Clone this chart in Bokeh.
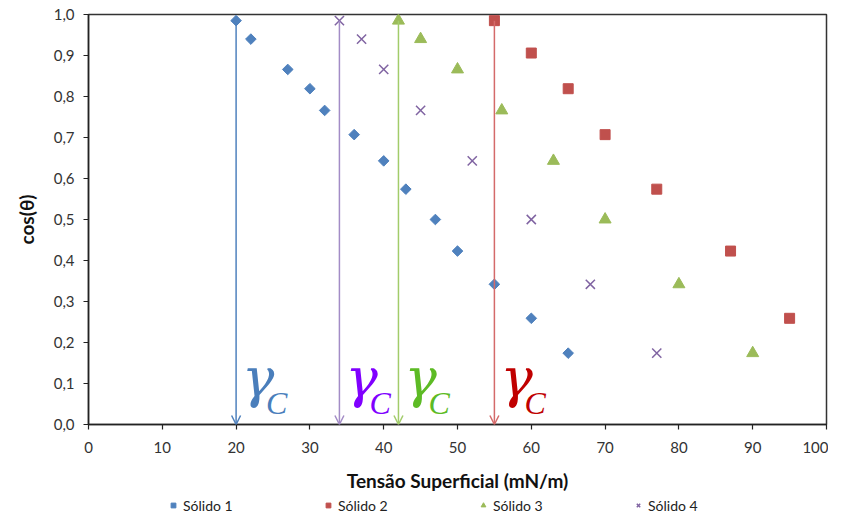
import numpy as np
from bokeh.plotting import figure
from bokeh.layouts import column
from bokeh.models import (Range1d, FixedTicker, Legend, LegendItem, Arrow, OpenHead,
                          ColumnDataSource)
from bokeh.core.properties import value
from bokeh.embed import file_html
from bokeh.resources import INLINE

# ---- data ----
s1_x = [20, 22, 27, 30, 32, 36, 40, 43, 47, 50, 55, 60, 65]
s1_y = [0.985, 0.940, 0.866, 0.819, 0.766, 0.707, 0.643, 0.574, 0.500, 0.423, 0.342, 0.259, 0.174]
s2_x = [55, 60, 65, 70, 77, 87, 95]
s2_y = [0.985, 0.906, 0.819, 0.707, 0.574, 0.423, 0.259]
s3_x = [42, 45, 50, 56, 63, 70, 80, 90]
s3_y = [0.985, 0.940, 0.866, 0.766, 0.643, 0.500, 0.342, 0.174]
s4_x = [34, 37, 40, 45, 52, 60, 68, 77]
s4_y = [0.985, 0.940, 0.866, 0.766, 0.643, 0.500, 0.342, 0.174]
series_names = ["Sólido 1", "Sólido 2", "Sólido 3", "Sólido 4"]

gamma_c = [20, 34, 42, 55]
arrow_top = [0.985, 0.985, 0.985, 0.985]
gamma_base = [0, 0, 0, 0]

x_ticks = [0, 10, 20, 30, 40, 50, 60, 70, 80, 90, 100]
y_ticks = [0.0, 0.1, 0.2, 0.3, 0.4, 0.5, 0.6, 0.7, 0.8, 0.9, 1.0]
y_tick_labels = ["0,0", "0,1", "0,2", "0,3", "0,4", "0,5", "0,6", "0,7", "0,8", "0,9", "1,0"]

# ---- styles ----
c_blue, c_red, c_green, c_purple = "#4F81BD", "#C0504D", "#9BBB59", "#8064A2"
arrow_colors = ["#4F81BD", "#A38CC6", "#A2CC6A", "#D46A6A"]
gamma_colors = ["#4A7EBB", "#8000FF", "#5DBB25", "#C00000"]
FONT = "Lato"
styles = [dict(marker="square", angle=np.pi / 4, size=7.5, fill_color=c_blue, line_color=c_blue),
          dict(marker="square", size=10, fill_color=c_red, line_color=c_red),
          dict(marker="triangle", size=12, fill_color=c_green, line_color=c_green),
          dict(marker="x", size=13, line_width=1.5, line_color=c_purple)]
series = [(s1_x, s1_y), (s2_x, s2_y), (s3_x, s3_y), (s4_x, s4_y)]

p = figure(width=828, height=494, output_backend="svg", toolbar_location=None,
           x_range=Range1d(0, 100), y_range=Range1d(0, 1),
           min_border_left=88, min_border_right=2, min_border_top=14, min_border_bottom=70)
p.grid.visible = False
p.outline_line_color = "#333333"
p.outline_line_width = 1.5
p.background_fill_color = "white"
p.border_fill_color = "white"

for ax in (p.xaxis, p.yaxis):
    ax.axis_line_color = "#222222"
    ax.axis_line_width = 1.5
    ax.major_tick_line_color = "#222222"
    ax.major_tick_line_width = 1.2
    ax.major_tick_in = 0
    ax.major_tick_out = 5
    ax.minor_tick_line_color = None
    ax.major_label_text_font = FONT
    ax.major_label_text_font_size = "15px"
    ax.major_label_text_color = "#333333"
    ax.axis_label_text_font = FONT
    ax.axis_label_text_font_style = "bold"
    ax.axis_label_text_font_size = "19px"
    ax.axis_label_text_color = "#111111"

p.xaxis.ticker = FixedTicker(ticks=x_ticks)
p.yaxis.ticker = FixedTicker(ticks=y_ticks)
p.yaxis.major_label_overrides = {t: l for t, l in zip(y_ticks, y_tick_labels)}
p.xaxis.axis_label = "Tensão Superficial (mN/m)"
p.yaxis.axis_label = "cos(θ)"
p.xaxis.major_label_standoff = 12
p.xaxis.axis_label_standoff = 13
p.yaxis.major_label_standoff = 9
p.yaxis.axis_label_standoff = 13

# arrows
for gx, top, col in zip(gamma_c, arrow_top, arrow_colors):
    p.add_layout(Arrow(x_start=gx, y_start=top, x_end=gx, y_end=0,
                       line_color=col, line_width=1.5,
                       end=OpenHead(size=9, line_color=col, line_width=1.5)))

# markers
for (sx, sy), st in zip(series, styles):
    p.scatter(sx, sy, **st)

# gamma_C labels
gsrc = ColumnDataSource(dict(x=gamma_c, y=gamma_base, c=gamma_colors,
                             g=["γ"] * len(gamma_c), s=["C"] * len(gamma_c)))
p.text(x="x", y="y", text="g", source=gsrc, text_color="c",
       text_font=value("DejaVu Serif"), text_font_style="italic",
       text_font_size="54px", text_baseline="alphabetic", text_align="left",
       x_offset=6, y_offset=-46)
p.text(x="x", y="y", text="s", source=gsrc, text_color="c",
       text_font=value("Liberation Serif"), text_font_style="italic",
       text_font_size="32px", text_baseline="alphabetic", text_align="left",
       x_offset=30, y_offset=-22)

# ---- legend strip (separate panel under the chart) ----
# same series drawn here, but outside this strip's ranges, so only the legend shows
lp = figure(width=828, height=22, output_backend="svg", toolbar_location=None,
            x_range=Range1d(0, 1), y_range=Range1d(0, 1),
            x_axis_location=None, y_axis_location=None,
            min_border=0, outline_line_color=None)
lp.grid.visible = False
lrs = [lp.scatter(sx, sy, **st) for (sx, sy), st in zip(series, styles)]

legend = Legend(items=[LegendItem(label=n, renderers=[r]) for n, r in zip(series_names, lrs)],
                orientation="horizontal", location=(77, 0),
                border_line_alpha=0, background_fill_alpha=0,
                label_text_font=FONT, label_text_font_size="14px",
                label_text_color="#222222", label_height=18,
                glyph_width=12, glyph_height=12, label_standoff=4,
                label_width=120, spacing=19, padding=2, margin=0)
lp.add_layout(legend)

layout = column(p, lp, spacing=0)
open("out.html", "w").write(file_html(layout, INLINE))
